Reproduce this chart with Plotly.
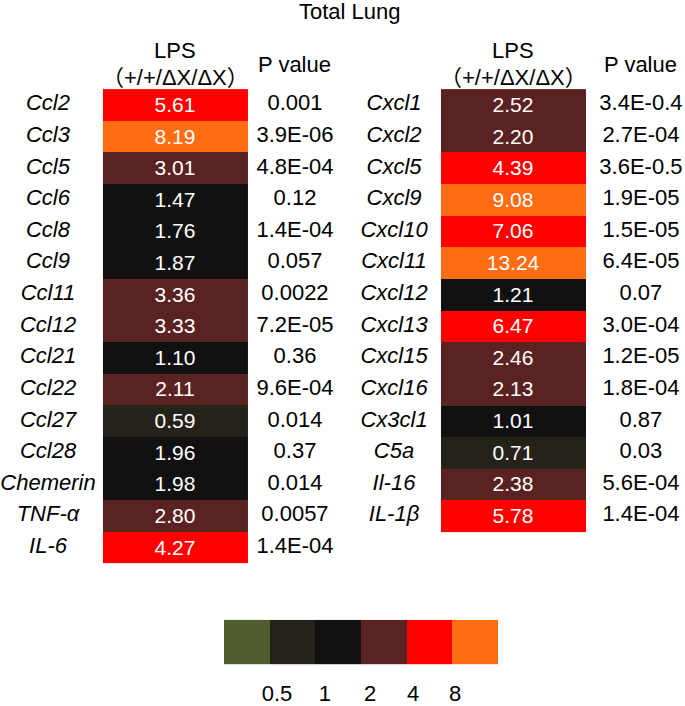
import numpy as np
import plotly.graph_objects as go

# ---------------- data ----------------
left_genes = ["Ccl2", "Ccl3", "Ccl5", "Ccl6", "Ccl8", "Ccl9", "Ccl11", "Ccl12", "Ccl21",
              "Ccl22", "Ccl27", "Ccl28", "Chemerin", "TNF-α", "IL-6"]
left_fold = [5.61, 8.19, 3.01, 1.47, 1.76, 1.87, 3.36, 3.33, 1.10, 2.11, 0.59, 1.96, 1.98, 2.80, 4.27]
left_p = ["0.001", "3.9E-06", "4.8E-04", "0.12", "1.4E-04", "0.057", "0.0022", "7.2E-05", "0.36",
          "9.6E-04", "0.014", "0.37", "0.014", "0.0057", "1.4E-04"]

right_genes = ["Cxcl1", "Cxcl2", "Cxcl5", "Cxcl9", "Cxcl10", "Cxcl11", "Cxcl12", "Cxcl13",
               "Cxcl15", "Cxcl16", "Cx3cl1", "C5a", "Il-16", "IL-1β"]
right_fold = [2.52, 2.20, 4.39, 9.08, 7.06, 13.24, 1.21, 6.47, 2.46, 2.13, 1.01, 0.71, 2.38, 5.78]
right_p = ["3.4E-0.4", "2.7E-04", "3.6E-0.5", "1.9E-05", "1.5E-05", "6.4E-05", "0.07", "3.0E-04",
           "1.2E-05", "1.8E-04", "0.87", "0.03", "5.6E-04", "1.4E-04"]

bin_edges = [0.5, 1, 2, 4, 8]
legend_labels = ["0.5", "1", "2", "4", "8"]
bin_colors = ["#4f5d2f", "#25221a", "#111111", "#5b2222", "#ff0000", "#ff6c12"]

# ---------------- styling ----------------
FONT = "Liberation Sans, Arial, Noto Sans CJK SC, sans-serif"
W, H = 685, 706

colorscale = []
n = len(bin_colors)
for i, c in enumerate(bin_colors):
    colorscale.append([i / n, c])
    colorscale.append([(i + 1) / n, c])


def bins(vals):
    return np.digitize(vals, bin_edges)


fig = go.Figure()


def add_panel(genes, fold, pvals, xa, label_x, p_x):
    rows = list(range(len(genes)))
    z = [[b] for b in bins(fold)]
    txt = [[f"{v:.2f}"] for v in fold]
    fig.add_trace(go.Heatmap(
        z=z, x=[0], y=rows, text=txt, texttemplate="%{text}",
        textfont=dict(family=FONT, size=21, color="white"),
        colorscale=colorscale, zmin=-0.5, zmax=n - 0.5, showscale=False,
        hoverinfo="skip", xaxis=xa, yaxis="y"))
    fig.add_trace(go.Scatter(
        x=[label_x] * len(genes), y=rows, mode="text",
        text=[f"<i>{g}</i>" for g in genes], textposition="middle center",
        textfont=dict(family=FONT, size=22, color="black"),
        hoverinfo="skip", showlegend=False, xaxis=xa, yaxis="y"))
    fig.add_trace(go.Scatter(
        x=[p_x] * len(pvals), y=rows, mode="text",
        text=pvals, textposition="middle center",
        textfont=dict(family=FONT, size=22, color="black"),
        hoverinfo="skip", showlegend=False, xaxis=xa, yaxis="y"))


add_panel(left_genes, left_fold, left_p, "x", -0.879, 0.824)
add_panel(right_genes, right_fold, right_p, "x2", -0.824, 0.879)

# legend strip
fig.add_trace(go.Heatmap(
    z=[list(range(n))], x=list(range(n)), y=[0],
    colorscale=colorscale, zmin=-0.5, zmax=n - 0.5, showscale=False,
    hoverinfo="skip", xaxis="x3", yaxis="y3"))

row_h = 31.93
top_px = 90
y_range = [-0.5 + (H - top_px) / row_h, -0.5 - top_px / row_h]

hidden = dict(visible=False, showgrid=False, zeroline=False)
fig.update_layout(
    width=W, height=H,
    margin=dict(l=0, r=0, t=0, b=0),
    paper_bgcolor="white", plot_bgcolor="white",
    showlegend=False,
    font=dict(family=FONT, size=22, color="black"),
    xaxis=dict(domain=[0, 345 / W], range=[-1.210, 1.169], anchor="y", **hidden),
    xaxis2=dict(domain=[345 / W, 1], range=[-1.162, 1.183], anchor="y", **hidden),
    yaxis=dict(domain=[0, 1], range=y_range, anchor="x", **hidden),
    xaxis3=dict(domain=[224 / W, 498 / W], range=[-0.5, n - 0.5], anchor="y3",
                showgrid=False, zeroline=False, showline=False, ticks="",
                tickmode="array", tickvals=[0.66, 1.71, 2.70, 3.64, 4.56],
                ticktext=legend_labels, ticklabelstandoff=14,
                tickfont=dict(family=FONT, size=22, color="black")),
    yaxis3=dict(domain=[1 - 671 / H, 1 - 626 / H], range=[-0.5, 0.5], anchor="x3",
                **hidden),
)

ann = []
ann.append(dict(text="Total Lung", xref="paper", yref="paper", x=350 / W, y=1 - 12 / H,
                showarrow=False, xanchor="center", yanchor="middle",
                font=dict(family=FONT, size=22, color="black")))
for xr, p_x in (("x", 0.824), ("x2", 0.879)):
    ann.append(dict(text="LPS", xref=xr, yref="paper", x=0, y=1 - 51 / H, showarrow=False,
                    xanchor="center", yanchor="middle", font=dict(family=FONT, size=22)))
    ann.append(dict(text="（+/+/ΔX/ΔX）", xref=xr, yref="paper", x=0, y=1 - 78 / H,
                    showarrow=False, xanchor="center", yanchor="middle",
                    font=dict(family=FONT, size=22)))
    ann.append(dict(text="P value", xref=xr, yref="paper", x=p_x, y=1 - 65 / H,
                    showarrow=False, xanchor="center", yanchor="middle",
                    font=dict(family=FONT, size=22)))
fig.update_layout(annotations=ann)

fig.write_html("out.html", config={"displayModeBar": False},
               post_script="document.body.style.margin='0';document.body.style.padding='0';")
